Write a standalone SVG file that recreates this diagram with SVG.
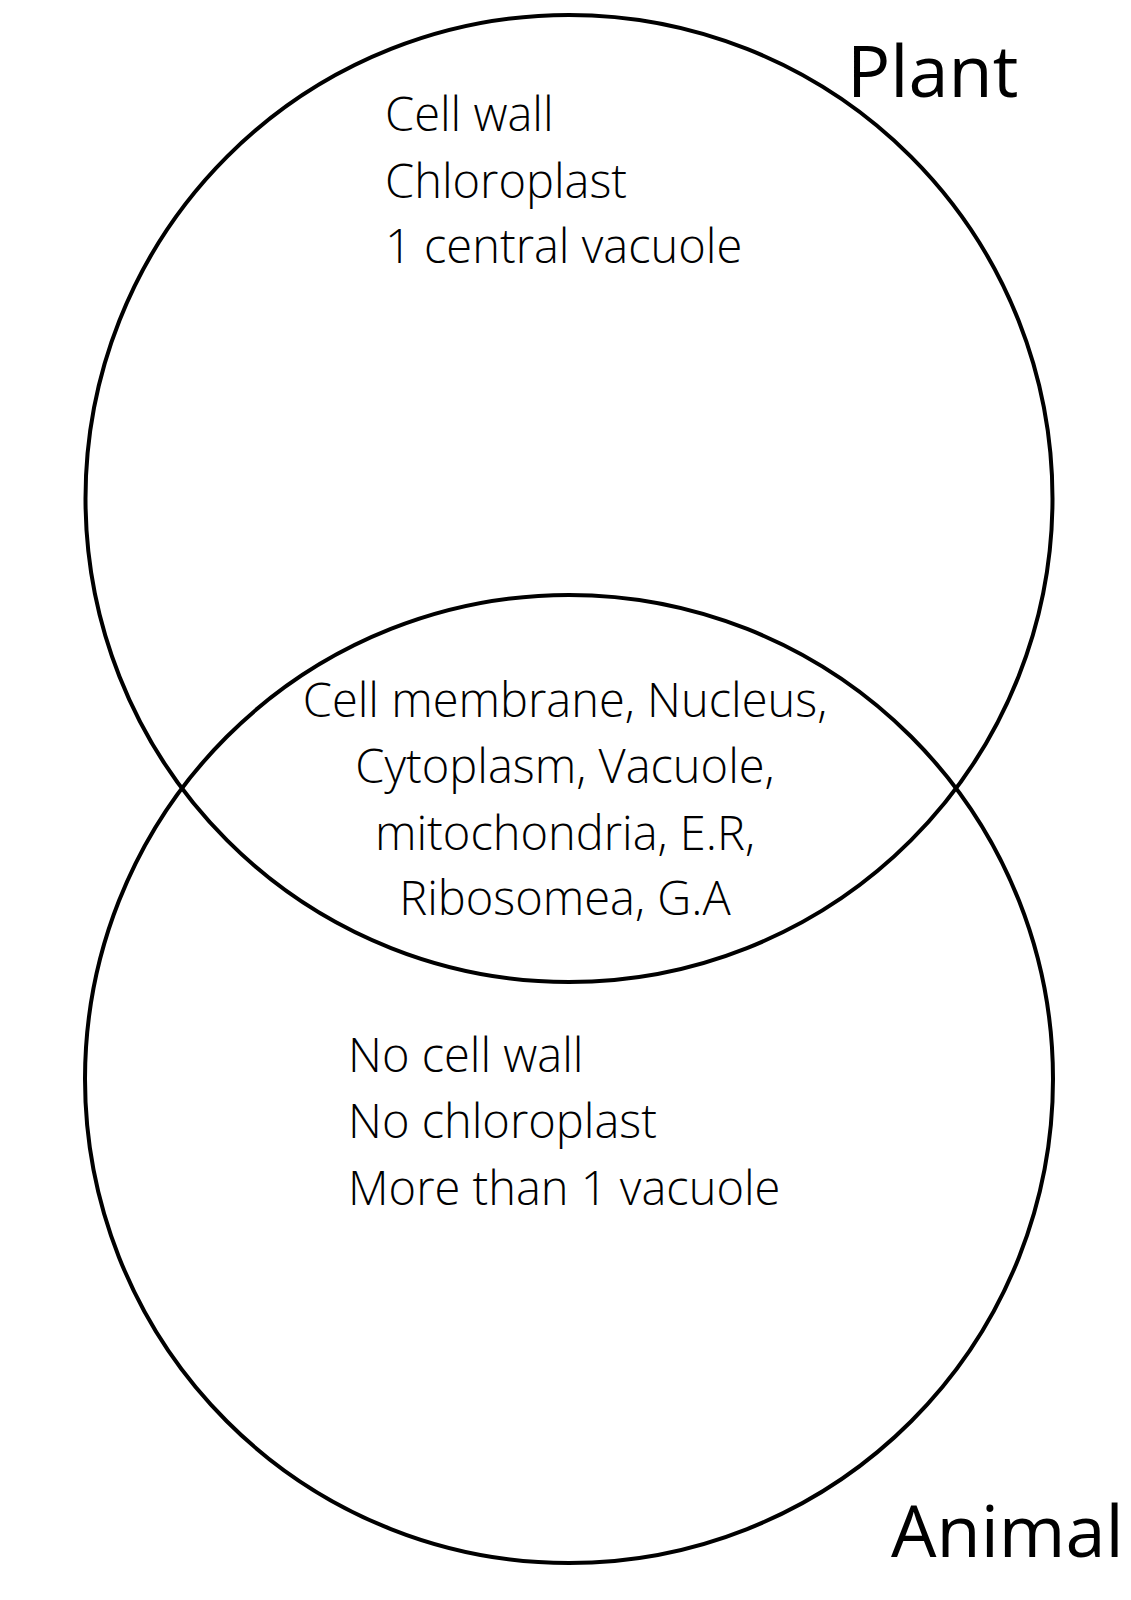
<svg xmlns="http://www.w3.org/2000/svg" width="1131" height="1600" viewBox="0 0 1131 1600">
<style>
.c{fill:none;stroke:#000;stroke-width:4}
.t{font-family:"Open Sans","Noto Sans","Liberation Sans",sans-serif;font-weight:300;font-size:47px;fill:#000}
.h{font-family:"Open Sans","Noto Sans","Liberation Sans",sans-serif;font-weight:400;font-size:72px;fill:#000}
</style>
<rect width="1131" height="1600" fill="#fff"/>
<g id="plant">
<circle class="c" cx="569" cy="498.5" r="483.5"/>
<text class="h" x="847" y="97">Plant</text>
<text class="t" x="385" y="131">Cell wall</text>
<text class="t" x="385" y="198">Chloroplast</text>
<text class="t" x="385" y="263">1 central vacuole</text>
</g>
<g id="animal">
<circle class="c" cx="569" cy="1079" r="484"/>
<text class="h" x="891" y="1557">Animal</text>
<text class="t" x="348" y="1072">No cell wall</text>
<text class="t" x="348" y="1138">No chloroplast</text>
<text class="t" x="348" y="1205">More than 1 vacuole</text>
</g>
<g id="both">
<text class="t" text-anchor="middle" x="565" y="717">Cell membrane, Nucleus,</text>
<text class="t" text-anchor="middle" x="565" y="783">Cytoplasm, Vacuole,</text>
<text class="t" text-anchor="middle" x="565" y="850">mitochondria, E.R,</text>
<text class="t" text-anchor="middle" x="565" y="915">Ribosomea, G.A</text>
</g>
<g id="connectors"></g>
</svg>
